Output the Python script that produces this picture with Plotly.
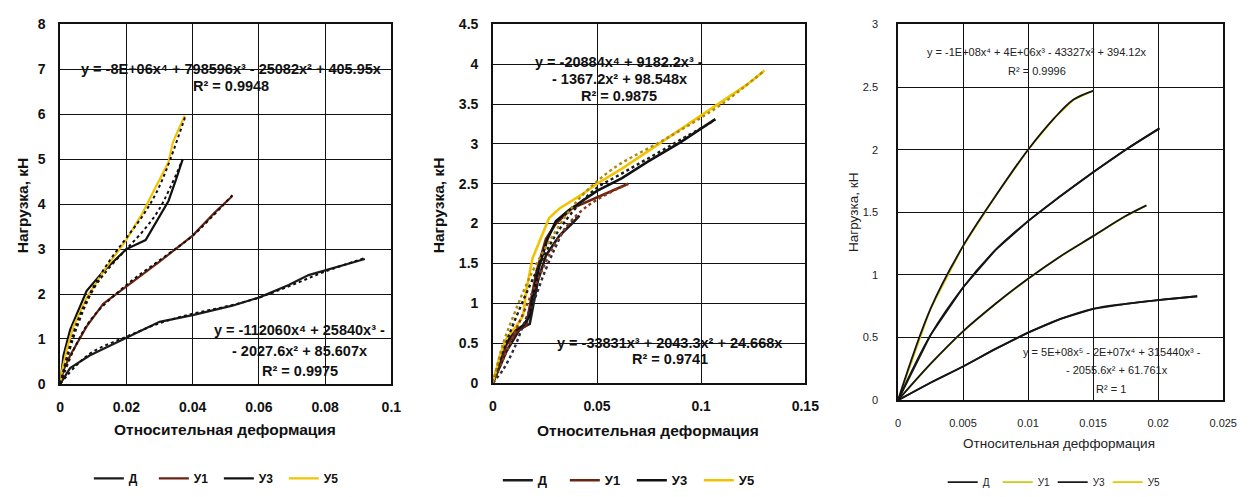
import plotly.graph_objects as go

W, H = 1252, 497

# ---------------- data ----------------
series_names = ["Д", "У1", "У3", "У5"]

# Panel 1
p1_d_x = [0, 0.003, 0.0089, 0.02, 0.03, 0.04, 0.052, 0.06, 0.069, 0.075, 0.082, 0.092]
p1_d_y = [0, 0.35, 0.63, 1.02, 1.38, 1.53, 1.74, 1.92, 2.2, 2.42, 2.57, 2.78]
p1_u1_x = [0, 0.001, 0.003, 0.008, 0.013, 0.02, 0.03, 0.04, 0.0465, 0.052]
p1_u1_y = [0, 0.3, 0.63, 1.28, 1.78, 2.17, 2.72, 3.3, 3.8, 4.18]
p1_u3_x = [0, 0.001, 0.003, 0.008, 0.013, 0.02, 0.0258, 0.0327, 0.035, 0.037]
p1_u3_y = [0, 0.63, 1.2, 2.07, 2.5, 3.0, 3.2, 4.07, 4.55, 5.0]
p1_u5_x = [0, 0.0005, 0.002, 0.004, 0.008, 0.013, 0.02, 0.0248, 0.0287, 0.0327, 0.034, 0.0376]
p1_u5_y = [0, 0.27, 0.77, 1.28, 1.92, 2.5, 3.21, 3.79, 4.36, 4.93, 5.37, 5.97]

p1_td_x = [0, 0.005, 0.01, 0.02, 0.03, 0.04, 0.05, 0.06, 0.07, 0.08, 0.092]
p1_td_y = [0, 0.42, 0.72, 1.05, 1.35, 1.56, 1.72, 1.92, 2.2, 2.5, 2.8]
p1_t1_x = [0, 0.005, 0.01, 0.02, 0.03, 0.04, 0.052]
p1_t1_y = [0, 0.9, 1.5, 2.2, 2.75, 3.3, 4.2]
p1_t3_x = [0, 0.005, 0.01, 0.015, 0.02, 0.025, 0.03, 0.037]
p1_t3_y = [0, 1.25, 2.1, 2.6, 3.0, 3.4, 3.9, 5.0]
p1_t5_x = [0, 0.005, 0.01, 0.015, 0.02, 0.025, 0.03, 0.038]
p1_t5_y = [0, 1.35, 2.15, 2.75, 3.25, 3.75, 4.4, 6.0]

# Panel 2
p2_d_x = [0, 0.0066, 0.013, 0.0177, 0.019, 0.0216, 0.0255, 0.032, 0.038, 0.0416]
p2_d_y = [0, 0.4, 0.68, 0.74, 0.92, 1.28, 1.6, 1.85, 2.0, 2.1]
p2_u1_x = [0, 0.0066, 0.0114, 0.016, 0.018, 0.021, 0.0255, 0.0303, 0.038, 0.05, 0.065]
p2_u1_y = [0, 0.48, 0.64, 0.72, 1.0, 1.4, 1.81, 2.0, 2.19, 2.33, 2.5]
p2_u3_x = [0, 0.005, 0.0098, 0.0145, 0.0177, 0.019, 0.0224, 0.0263, 0.0303, 0.0366, 0.05, 0.062, 0.074, 0.09, 0.1068]
p2_u3_y = [0, 0.44, 0.64, 0.72, 0.84, 1.08, 1.48, 1.81, 2.03, 2.17, 2.41, 2.57, 2.77, 3.02, 3.31]
p2_u5_x = [0, 0.0035, 0.0066, 0.0114, 0.0145, 0.016, 0.019, 0.024, 0.027, 0.032, 0.043, 0.05, 0.062, 0.074, 0.09, 0.106, 0.1218, 0.1304]
p2_u5_y = [0, 0.35, 0.56, 0.72, 0.84, 1.16, 1.56, 1.89, 2.07, 2.19, 2.37, 2.5, 2.69, 2.9, 3.18, 3.46, 3.74, 3.92]

p2_td_x = [0, 0.005, 0.01, 0.015, 0.02, 0.025, 0.03, 0.035, 0.0416]
p2_td_y = [0, 0.17, 0.42, 0.75, 1.05, 1.4, 1.7, 1.95, 2.1]
p2_t1_x = [0, 0.005, 0.01, 0.015, 0.02, 0.03, 0.04, 0.05, 0.065]
p2_t1_y = [0, 0.3, 0.6, 0.9, 1.2, 1.75, 2.1, 2.3, 2.5]
p2_t3_x = [0, 0.005, 0.01, 0.02, 0.03, 0.04, 0.05, 0.06, 0.07, 0.08, 0.09, 0.1068]
p2_t3_y = [0, 0.4, 0.75, 1.35, 1.85, 2.2, 2.45, 2.6, 2.75, 2.9, 3.05, 3.3]
p2_t5_x = [0, 0.005, 0.01, 0.015, 0.02, 0.03, 0.04, 0.05, 0.06, 0.07, 0.08, 0.09, 0.1, 0.11, 0.12, 0.1304]
p2_t5_y = [0, 0.5, 0.85, 1.17, 1.45, 1.9, 2.27, 2.53, 2.73, 2.88, 3.02, 3.17, 3.33, 3.5, 3.7, 3.92]

# Panel 3
p3_d_x = [0, 0.0025, 0.005, 0.0075, 0.01, 0.0125, 0.015, 0.0175, 0.02, 0.023]
p3_d_y = [0, 0.14, 0.27, 0.41, 0.54, 0.65, 0.73, 0.77, 0.80, 0.83]
p3_u1_x = [0, 0.0025, 0.005, 0.0075, 0.01, 0.0125, 0.015, 0.0175, 0.0191]
p3_u1_y = [0, 0.29, 0.55, 0.77, 0.97, 1.15, 1.31, 1.47, 1.555]
p3_u3_x = [0, 0.0025, 0.005, 0.0075, 0.01, 0.0125, 0.015, 0.0175, 0.0201]
p3_u3_y = [0, 0.52, 0.9, 1.2, 1.43, 1.63, 1.82, 2.0, 2.17]
p3_u5_x = [0, 0.0025, 0.005, 0.0075, 0.01, 0.012, 0.0135, 0.015]
p3_u5_y = [0, 0.73, 1.23, 1.63, 2.0, 2.25, 2.4, 2.47]

# trendline labels
eq1_top = ["y = -8E+06x⁴ + 798596x³ - 25082x² + 405.95x", "R² = 0.9948"]
eq1_bot = ["y = -112060x⁴ + 25840x³ -", "- 2027.6x² + 85.607x", "R² = 0.9975"]
eq2_top = ["y = -20884x⁴ + 9182.2x³ -", "- 1367.2x² + 98.548x", "R² = 0.9875"]
eq2_bot = ["y = -33831x³ + 2043.3x² + 24.668x", "R² = 0.9741"]
eq3_top = ["y = -1E+08x⁴ + 4E+06x³ - 43327x² + 394.12x", "R² = 0.9996"]
eq3_bot = ["y = 5E+08x⁵ - 2E+07x⁴ + 315440x³ -", "- 2055.6x² + 61.761x", "R² = 1"]

x_title = ["Относительная деформация", "Относительная деформация", "Относительная дефформация"]
y_title = "Нагрузка, кН"

# ---------------- layout helpers ----------------
def px_x(p):
    return p / W

def px_y(p):
    return 1 - p / H

FONT = "Liberation Sans, Arial, sans-serif"

fig = go.Figure()

panels = [
    dict(xa="x", ya="y", legend="legend"),
    dict(xa="x2", ya="y2", legend="legend2"),
    dict(xa="x3", ya="y3", legend="legend3"),
]

c_d = "#1c1c1c"
c_u1 = "#6b2410"
c_u3 = "#111111"
c_u5 = "#f2c300"

def add_series(xs, ys, name, color, p, width=2.2):
    fig.add_trace(go.Scatter(x=xs, y=ys, name=name, mode="lines",
                             line=dict(color=color, width=width),
                             xaxis=p["xa"], yaxis=p["ya"], legend=p["legend"]))

def add_trend(xs, ys, p, color="#111111", width=2, dash="dot"):
    fig.add_trace(go.Scatter(x=xs, y=ys, mode="lines", showlegend=False, hoverinfo="skip",
                             line=dict(color=color, width=width, dash=dash, shape="spline"),
                             xaxis=p["xa"], yaxis=p["ya"]))

P1, P2, P3 = panels

# panel 1
add_series(p1_d_x, p1_d_y, "Д", c_d, P1)
add_series(p1_u1_x, p1_u1_y, "У1", c_u1, P1)
add_series(p1_u3_x, p1_u3_y, "У3", c_u3, P1)
add_series(p1_u5_x, p1_u5_y, "У5", c_u5, P1)
add_trend(p1_td_x, p1_td_y, P1)
add_trend(p1_t1_x, p1_t1_y, P1)
add_trend(p1_t3_x, p1_t3_y, P1)
add_trend(p1_t5_x, p1_t5_y, P1)

# panel 2
add_series(p2_d_x, p2_d_y, "Д", c_d, P2, 2.6)
add_series(p2_u1_x, p2_u1_y, "У1", c_u1, P2, 2.6)
add_series(p2_u3_x, p2_u3_y, "У3", c_u3, P2, 2.6)
add_series(p2_u5_x, p2_u5_y, "У5", c_u5, P2, 2.6)
add_trend(p2_td_x, p2_td_y, P2, "#2a2a40", 2.4)
add_trend(p2_t1_x, p2_t1_y, P2, "#8a3a1a", 2.4)
add_trend(p2_t3_x, p2_t3_y, P2, "#1a1a1a", 2.4)
add_trend(p2_t5_x, p2_t5_y, P2, "#b08a10", 2.4)

# panel 3 (series drawn under their dark trendlines)
add_series(p3_d_x, p3_d_y, "Д", "#1a1a1a", P3, 1.8)
add_series(p3_u1_x, p3_u1_y, "У1", "#c9cc10", P3, 1.8)
add_series(p3_u3_x, p3_u3_y, "У3", "#1a1a1a", P3, 1.8)
add_series(p3_u5_x, p3_u5_y, "У5", "#e6c800", P3, 1.8)
add_trend(p3_d_x, p3_d_y, P3, "#151515", 1.8, "solid")
add_trend(p3_u1_x, p3_u1_y, P3, "#151515", 1.8, "solid")
add_trend(p3_u3_x, p3_u3_y, P3, "#151515", 1.8, "solid")
add_trend(p3_u5_x, p3_u5_y, P3, "#151515", 1.8, "solid")

axis_common = dict(showgrid=True, gridcolor="#111111", gridwidth=1.3,
                   showline=True, linecolor="#111111", linewidth=1.5, mirror=True,
                   zeroline=False, ticks="", fixedrange=True)

p1_xticks = [0, 0.02, 0.04, 0.06, 0.08, 0.1]
p1_yticks = [0, 1, 2, 3, 4, 5, 6, 7, 8]
p2_xticks = [0, 0.05, 0.1, 0.15]
p2_yticks = [0, 0.5, 1, 1.5, 2, 2.5, 3, 3.5, 4, 4.5]
p3_xticks = [0, 0.005, 0.01, 0.015, 0.02, 0.025]
p3_yticks = [0, 0.5, 1, 1.5, 2, 2.5, 3]

bold_tick = dict(family=FONT, size=14, color="#111111", weight="bold")
reg_tick = dict(family=FONT, size=11, color="#222222")

legend_common = dict(orientation="h", xanchor="center", yanchor="middle",
                     itemwidth=30, bgcolor="rgba(0,0,0,0)", entrywidthmode="pixels")

layout = dict(
    width=W, height=H, margin=dict(l=0, r=0, t=0, b=0),
    paper_bgcolor="white", plot_bgcolor="white", showlegend=True,
    xaxis=dict(domain=[px_x(57), px_x(393)], range=[0, 0.1], tickvals=p1_xticks,
               ticktext=[str(v) for v in p1_xticks], anchor="y", tickfont=bold_tick,
               ticklabelstandoff=10, **axis_common),
    yaxis=dict(domain=[px_y(390), px_y(17)], range=[0, 8], tickvals=p1_yticks,
               ticktext=[str(v) for v in p1_yticks], anchor="x", tickfont=bold_tick,
               ticklabelstandoff=10, **axis_common),
    xaxis2=dict(domain=[px_x(496), px_x(813)], range=[0, 0.15], tickvals=p2_xticks,
                ticktext=[str(v) for v in p2_xticks], anchor="y2", tickfont=bold_tick,
                ticklabelstandoff=10, **axis_common),
    yaxis2=dict(domain=[px_y(389), px_y(17)], range=[0, 4.5], tickvals=p2_yticks,
                ticktext=[str(v) for v in p2_yticks], anchor="x2", tickfont=bold_tick,
                ticklabelstandoff=10, **axis_common),
    xaxis3=dict(domain=[px_x(907), px_x(1237)], range=[0, 0.025], tickvals=p3_xticks,
                ticktext=[str(v) for v in p3_xticks], anchor="y3", tickfont=reg_tick,
                ticklabelstandoff=12, **axis_common),
    yaxis3=dict(domain=[px_y(407), px_y(17)], range=[0, 3], tickvals=p3_yticks,
                ticktext=[str(v) for v in p3_yticks], anchor="x3", tickfont=reg_tick,
                ticklabelstandoff=16, **axis_common),
    legend=dict(x=px_x(218), y=px_y(488), entrywidth=20,
                font=dict(family=FONT, size=12, color="#111111", weight="bold"), **legend_common),
    legend2=dict(x=px_x(637), y=px_y(490), entrywidth=22,
                 font=dict(family=FONT, size=13, color="#111111", weight="bold"), **legend_common),
    legend3=dict(x=px_x(1064), y=px_y(492), entrywidth=10,
                 font=dict(family=FONT, size=10, color="#222222"), **legend_common),
)
fig.update_layout(**layout)

ann = []

def add_lines(lines, xref, yref, xs, ys, font):
    for t, xv, yv in zip(lines, xs, ys):
        ann.append(dict(text=t, x=xv, y=yv, xref=xref, yref=yref, showarrow=False,
                        xanchor="center", yanchor="middle", font=font))

eq_bold = dict(family=FONT, size=14.5, color="#111111", weight="bold")
eq_reg = dict(family=FONT, size=11, color="#222222")

add_lines(eq1_top, "x", "y", [0.0515, 0.0515], [7.0, 6.62], eq_bold)
add_lines(eq1_bot, "x", "y", [0.0723, 0.0723, 0.0723], [1.2, 0.74, 0.29], eq_bold)
add_lines(eq2_top, "x2", "y2", [0.0606, 0.0606, 0.0606], [4.03, 3.82, 3.6], eq_bold)
add_lines(eq2_bot, "x2", "y2", [0.085, 0.085], [0.5, 0.3], eq_bold)
add_lines(eq3_top, "x3", "y3", [0.01066, 0.01066], [2.78, 2.63], eq_reg)
add_lines(eq3_bot, "x3", "y3", [0.01646, 0.0168, 0.0164], [0.386, 0.244, 0.09], eq_reg)

# axis titles
title_bold = dict(family=FONT, size=15.5, color="#111111", weight="bold")
title_reg = dict(family=FONT, size=13.5, color="#222222")
ann.append(dict(text=x_title[0], x=px_x(224), y=px_y(437), xref="paper", yref="paper",
                showarrow=False, xanchor="center", yanchor="middle", font=title_bold))
ann.append(dict(text=x_title[1], x=px_x(653), y=px_y(438), xref="paper", yref="paper",
                showarrow=False, xanchor="center", yanchor="middle", font=title_bold))
ann.append(dict(text=x_title[2], x=px_x(1070), y=px_y(452), xref="paper", yref="paper",
                showarrow=False, xanchor="center", yanchor="middle", font=title_reg))
ann.append(dict(text=y_title, x=px_x(19), y=px_y(205), xref="paper", yref="paper", textangle=-90,
                showarrow=False, xanchor="center", yanchor="middle", font=title_bold))
ann.append(dict(text=y_title, x=px_x(441), y=px_y(205), xref="paper", yref="paper", textangle=-90,
                showarrow=False, xanchor="center", yanchor="middle", font=title_bold))
ann.append(dict(text=y_title, x=px_x(862), y=px_y(212), xref="paper", yref="paper", textangle=-90,
                showarrow=False, xanchor="center", yanchor="middle", font=title_reg))

fig.update_layout(annotations=ann)

fig.write_html("out.html")
